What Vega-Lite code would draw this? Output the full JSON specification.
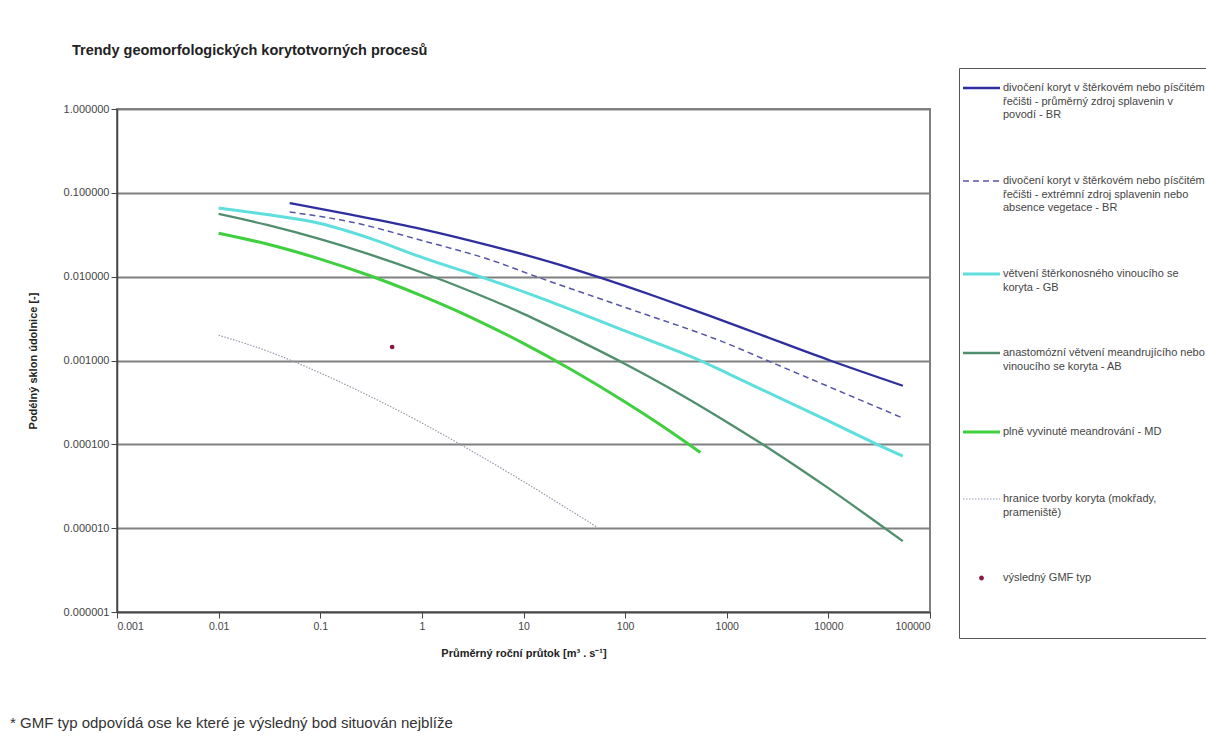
{
  "$schema": "https://vega.github.io/schema/vega-lite/v6.json",
  "width": 813,
  "height": 503,
  "autosize": {"type": "none"},
  "padding": {"left": 117, "top": 109, "right": 276, "bottom": 137},
  "background": "white",
  "config": {
    "view": {"stroke": "#808080", "strokeWidth": 2},
    "axis": {"labelFont": "Liberation Sans", "titleFont": "Liberation Sans"}
  },
  "title": {
    "text": "Trendy geomorfologických korytotvorných procesů",
    "anchor": "start",
    "frame": "group",
    "dx": -45,
    "offset": -5,
    "baseline": "bottom",
    "font": "Liberation Sans",
    "fontSize": 14.5,
    "fontWeight": "bold",
    "color": "#222222"
  },
  "data": {
    "values": [
      {"k": "BR", "q": 0.05, "i": 0.0755},
      {"k": "BR", "q": 0.2, "i": 0.055},
      {"k": "BR", "q": 1, "i": 0.037},
      {"k": "BR", "q": 5, "i": 0.023},
      {"k": "BR", "q": 20, "i": 0.0145},
      {"k": "BR", "q": 53, "i": 0.01},
      {"k": "BR", "q": 200, "i": 0.0058},
      {"k": "BR", "q": 641, "i": 0.0035},
      {"k": "BR", "q": 2000, "i": 0.0021},
      {"k": "BR", "q": 10400, "i": 0.001},
      {"k": "BR", "q": 54000, "i": 0.0005},
      {"k": "BRext", "q": 0.05, "i": 0.059},
      {"k": "BRext", "q": 0.2, "i": 0.045},
      {"k": "BRext", "q": 1, "i": 0.027},
      {"k": "BRext", "q": 5, "i": 0.0155},
      {"k": "BRext", "q": 12, "i": 0.0105},
      {"k": "BRext", "q": 100, "i": 0.0043},
      {"k": "BRext", "q": 1000, "i": 0.0016},
      {"k": "BRext", "q": 2500, "i": 0.001},
      {"k": "BRext", "q": 10000, "i": 0.00049},
      {"k": "BRext", "q": 52000, "i": 0.00021},
      {"k": "GB", "q": 0.01, "i": 0.066},
      {"k": "GB", "q": 0.03, "i": 0.055},
      {"k": "GB", "q": 0.1, "i": 0.043},
      {"k": "GB", "q": 0.3, "i": 0.029},
      {"k": "GB", "q": 1, "i": 0.017},
      {"k": "GB", "q": 3.74, "i": 0.01},
      {"k": "GB", "q": 11.6, "i": 0.0062},
      {"k": "GB", "q": 100, "i": 0.00225},
      {"k": "GB", "q": 547, "i": 0.001},
      {"k": "GB", "q": 1000, "i": 0.00071},
      {"k": "GB", "q": 10000, "i": 0.00019},
      {"k": "GB", "q": 30000, "i": 0.0001},
      {"k": "GB", "q": 54000, "i": 0.0000723},
      {"k": "AB", "q": 0.01, "i": 0.056},
      {"k": "AB", "q": 0.03, "i": 0.0414},
      {"k": "AB", "q": 0.1, "i": 0.028},
      {"k": "AB", "q": 0.3, "i": 0.0186},
      {"k": "AB", "q": 1, "i": 0.0112},
      {"k": "AB", "q": 3, "i": 0.0067},
      {"k": "AB", "q": 10, "i": 0.0036},
      {"k": "AB", "q": 30, "i": 0.0019},
      {"k": "AB", "q": 100, "i": 0.00091},
      {"k": "AB", "q": 300, "i": 0.00044},
      {"k": "AB", "q": 1000, "i": 0.000185},
      {"k": "AB", "q": 3000, "i": 0.00008},
      {"k": "AB", "q": 10000, "i": 0.00003},
      {"k": "AB", "q": 30000, "i": 0.0000117},
      {"k": "AB", "q": 54000, "i": 0.000007},
      {"k": "MD", "q": 0.01, "i": 0.033},
      {"k": "MD", "q": 0.03, "i": 0.0245},
      {"k": "MD", "q": 0.1, "i": 0.0162},
      {"k": "MD", "q": 0.3, "i": 0.0104},
      {"k": "MD", "q": 1, "i": 0.0059},
      {"k": "MD", "q": 3, "i": 0.0033},
      {"k": "MD", "q": 10, "i": 0.0016},
      {"k": "MD", "q": 30, "i": 0.00077},
      {"k": "MD", "q": 100, "i": 0.00032},
      {"k": "MD", "q": 300, "i": 0.000134},
      {"k": "MD", "q": 550, "i": 0.00008},
      {"k": "HR", "q": 0.01, "i": 0.002},
      {"k": "HR", "q": 0.03, "i": 0.0013},
      {"k": "HR", "q": 0.1, "i": 0.00071},
      {"k": "HR", "q": 0.3, "i": 0.00038},
      {"k": "HR", "q": 1, "i": 0.00018},
      {"k": "HR", "q": 3, "i": 0.000085},
      {"k": "HR", "q": 10, "i": 0.000036},
      {"k": "HR", "q": 30, "i": 0.0000158},
      {"k": "HR", "q": 53, "i": 0.0000103},
      {"k": "GMF", "q": 0.51, "i": 0.00145}
    ]
  },
  "encoding": {
    "x": {
      "field": "q",
      "type": "quantitative",
      "scale": {"type": "log", "domain": [0.001, 100000], "nice": false},
      "axis": {
        "title": "Průměrný roční průtok [m³ . s⁻¹]",
        "values": [0.001, 0.01, 0.1, 1, 10, 100, 1000, 10000, 100000],
        "format": "~g",
        "grid": false,
        "domainColor": "#444444",
        "domainWidth": 1.5,
        "tickColor": "#444444",
        "tickSize": 6,
        "labelPadding": 3,
        "labelFontSize": 10.5,
        "labelColor": "#444444",
        "titleFontSize": 11,
        "titleFontWeight": "bold",
        "titleColor": "#222222",
        "titlePadding": 16
      }
    },
    "y": {
      "field": "i",
      "type": "quantitative",
      "scale": {"type": "log", "domain": [0.000001, 1], "nice": false},
      "axis": {
        "title": "Podélný sklon údolnice [-]",
        "values": [0.000001, 0.00001, 0.0001, 0.001, 0.01, 0.1, 1],
        "format": ".6f",
        "grid": true,
        "gridColor": "#808080",
        "gridWidth": 1.8,
        "domainColor": "#444444",
        "domainWidth": 1.5,
        "tickColor": "#444444",
        "tickSize": 6,
        "labelPadding": 2,
        "labelFontSize": 11,
        "labelColor": "#444444",
        "titleFontSize": 11,
        "titleFontWeight": "bold",
        "titleColor": "#222222",
        "titlePadding": 25
      }
    },
    "color": {
      "field": "k",
      "type": "nominal",
      "scale": {
        "domain": ["BR", "BRext", "GB", "AB", "MD", "HR", "GMF"],
        "range": ["#2e2e9e", "#5555aa", "#5fdede", "#4f8f6e", "#3fcf3f", "#9898b0", "#8b1a3a"]
      },
      "legend": {
        "orient": "none",
        "legendX": 842,
        "legendY": -41,
        "title": null,
        "strokeColor": "#555555",
        "fillColor": "white",
        "padding": 14.5,
        "symbolType": "stroke",
        "symbolSize": 1369,
        "symbolOffset": 2.5,
        "labelOffset": 16,
        "labelLimit": 0,
        "labelFont": "Liberation Sans",
        "labelFontSize": 11,
        "labelColor": "#444444",
        "labelBaseline": "top",
        "rowPadding": 54,
        "labelExpr": "datum.value === 'BR' ? ['divočení koryt v štěrkovém nebo písčitém', 'řečišti - průměrný zdroj splavenin v', 'povodí - BR'] : datum.value === 'BRext' ? ['divočení koryt v štěrkovém nebo písčitém', 'řečišti - extrémní zdroj splavenin nebo', 'absence vegetace - BR'] : datum.value === 'GB' ? ['větvení štěrkonosného vinoucího se', 'koryta - GB'] : datum.value === 'AB' ? ['anastomózní větvení meandrujícího nebo', 'vinoucího se koryta - AB'] : datum.value === 'MD' ? ['plně vyvinuté meandrování - MD'] : datum.value === 'HR' ? ['hranice tvorby koryta (mokřady,', 'prameniště)'] : ['výsledný GMF typ', '', '', '']",
        "encode": {
          "labels": {"update": {"dy": {"value": -6}, "lineHeight": {"value": 13.5}}},
          "symbols": {
            "update": {
              "size": {"value": 1369},
              "shape": {"signal": "datum.value === 'GMF' ? 'M-0.13,0A0.13,0.13,0,1,1,0.13,0A0.13,0.13,0,1,1,-0.13,0Z' : 'stroke'"},
              "strokeWidth": {"signal": "datum.value === 'GMF' ? 0 : datum.value === 'HR' ? 1.2 : datum.value === 'BRext' ? 1.5 : (datum.value === 'GB' || datum.value === 'MD') ? 3 : 2.3"},
              "strokeDash": {"signal": "datum.value === 'BRext' ? [6, 4] : datum.value === 'HR' ? [1.5, 1.5] : [1, 0]"},
              "fill": {"signal": "datum.value === 'GMF' ? scale('color', datum.value) : 'transparent'"},
              "stroke": {"signal": "datum.value === 'GMF' ? 'transparent' : scale('color', datum.value)"},
              "opacity": {"value": 1}
            }
          }
        }
      }
    }
  },
  "layer": [
    {
      "transform": [{"filter": "datum.k === 'HR'"}],
      "mark": {"type": "line", "strokeWidth": 1.2, "strokeDash": [1.5, 1.5], "interpolate": "monotone"}
    },
    {
      "transform": [{"filter": "datum.k === 'MD' || datum.k === 'GB'"}],
      "mark": {"type": "line", "strokeWidth": 3, "interpolate": "monotone"}
    },
    {
      "transform": [{"filter": "datum.k === 'AB' || datum.k === 'BR'"}],
      "mark": {"type": "line", "strokeWidth": 2.3, "interpolate": "monotone"}
    },
    {
      "transform": [{"filter": "datum.k === 'BRext'"}],
      "mark": {"type": "line", "strokeWidth": 1.5, "strokeDash": [6, 4], "interpolate": "monotone"}
    },
    {
      "transform": [{"filter": "datum.k === 'GMF'"}],
      "mark": {"type": "point", "filled": true, "size": 22, "opacity": 1}
    },
    {
      "data": {"values": [{"t": "* GMF typ odpovídá ose ke které je výsledný bod situován nejblíže", "q": 0.0000885, "i": 0.0000000473}]},
      "mark": {"type": "text", "align": "left", "baseline": "middle", "font": "Liberation Sans", "fontSize": 15, "clip": false},
      "encoding": {
        "text": {"field": "t"},
        "color": {"value": "#333333"}
      }
    }
  ]
}
